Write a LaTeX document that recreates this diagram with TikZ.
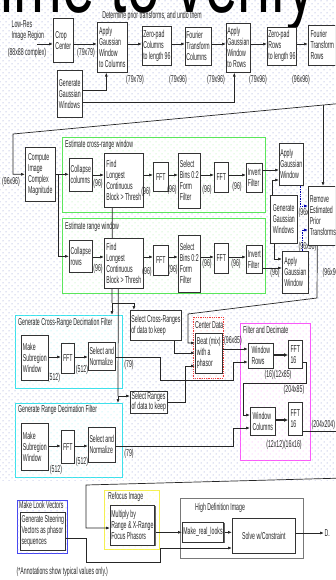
\documentclass[tikz,border=0pt]{standalone}
\usepackage{fontspec}
\setmainfont{Liberation Sans}[FakeStretch=0.52]
\newfontfamily\bigfont{Liberation Sans}[FakeStretch=0.65]
\usepackage{tikz}
\usetikzlibrary{arrows.meta,positioning,calc,shadows,patterns.meta,backgrounds}
\usepackage{xcolor}

\newcommand{\dfont}{\fontsize{10}{11}\selectfont}

\definecolor{dotblue}{RGB}{130,140,205}
\definecolor{grpgreen}{RGB}{90,230,90}
\definecolor{grpcyan}{RGB}{60,225,235}
\definecolor{grpmag}{RGB}{250,90,250}
\definecolor{grpred}{RGB}{240,60,60}
\definecolor{grpblue}{RGB}{70,70,240}
\definecolor{grpyellow}{RGB}{245,240,80}
\definecolor{grpgray}{RGB}{120,120,120}

\tikzdeclarepattern{
  name=bgdots,
  type=uncolored,
  bottom left={(-.5pt,-.5pt)},
  top right={(6.5pt,6.5pt)},
  tile size={(6pt,6pt)},
  code={
    \pgfpathcircle{\pgfpoint{0pt}{0pt}}{.5pt}
    \pgfpathcircle{\pgfpoint{3pt}{3pt}}{.5pt}
    \pgfusepath{fill}
  }
}

\pgfdeclarelayer{regions}
\pgfdeclarelayer{wires}
\pgfsetlayers{regions,wires,main}

\tikzset{
  box/.style={draw=black!80, fill=white, line width=0.6pt, inner sep=1pt, align=left, font=\dfont, anchor=north west,
    drop shadow={shadow xshift=1pt, shadow yshift=-1pt, fill=black!60, opacity=1}},
  note/.style={font=\dfont, inner sep=0.5pt},
  grouplabel/.style={font=\dfont, anchor=west, inner sep=0pt},
  zone/.style={draw=#1, line width=0.8pt, fill=white, postaction={pattern=bgdots, pattern color=#1!55}},
  wire/.style={-{Latex[length=4pt,width=3pt]}, line width=0.7pt, draw=black!85},
  plainwire/.style={line width=0.7pt, draw=black!85},
  fatwire/.style={-{Latex[length=4pt,width=4pt]}, line width=1.6pt, draw=black!85},
  bluewire/.style={-{Latex[length=4pt,width=3pt]}, line width=0.7pt, draw=blue!70!black, densely dotted}
}

\begin{document}
\begin{tikzpicture}[x=1pt, y=-1pt, node distance=9pt, text=black!85]
\useasboundingbox (0,0) rectangle (335,580);
\clip (0,0) rectangle (335,580);

\begin{pgfonlayer}{regions}
\fill[pattern=bgdots, pattern color=dotblue] (0,0) rectangle (335,480);
\draw[zone=grpgreen] (62,137) rectangle (265,212);
\node[grouplabel] (lblX) at (65,145) {Estimate cross-range window};
\draw[zone=grpgreen] (62,218) rectangle (265,293);
\node[grouplabel] (lblR) at (65,227) {Estimate range window};
\draw[zone=grpcyan] (15,315) rectangle (122,388);
\node[grouplabel] (lblDX) at (18,323) {Generate Cross-Range Decimation Filter};
\draw[zone=grpcyan] (15,403) rectangle (122,477);
\node[grouplabel] (lblDR) at (18,410) {Generate Range Decimation Filter};
\draw[zone=grpred, densely dotted] (193,317) rectangle (223,378);
\node[grouplabel] (lblC) at (195,325) {Center Data};
\draw[zone=grpmag] (240,323) rectangle (310,460);
\node[grouplabel] (lblF) at (243,330) {Filter and Decimate};
\draw[zone=grpblue] (17,500) rectangle (67,553);
\node[grouplabel] (lblL) at (19,505) {Make Look Vectors};
\draw[zone=grpyellow] (104,490) rectangle (159,549);
\node[grouplabel] (lblI) at (108,497) {Refocus Image};
\draw[draw=grpgray, line width=0.8pt, fill=white] (180,498) rectangle (303,558);
\node[grouplabel] (lblH) at (195,508) {High Definition Image};
\end{pgfonlayer}

\node[anchor=base west, inner sep=0pt, font=\bigfont\fontsize{90}{90}\selectfont, text=black] (banner) at (-16,13) {time to verify};
\node[note] (lblP) at (152,16) {Determine prior transforms, and undo them};

% prior transforms
\node[note, align=left, anchor=north west] (lowres) at (11,20) {Low-Res\\Image Region};
\node[note] (a1) at (27,53) {(88x88 complex)};
\node[box, minimum width=20, minimum height=44] (crop) at (53,18) {Crop\\Center};
\node[box, minimum width=30, minimum height=50] (applycol) at (97,22) {Apply\\Gaussian\\Window\\to Columns};
\node[box, minimum width=28, minimum height=39] (zpcol) at (142,26) {Zero-pad\\Columns\\to length 96};
\node[box, minimum width=25, minimum height=38] (fftcol) at (185,27) {Fourier\\Transform\\Columns};
\node[box, minimum width=24, minimum height=49] (applyrow) at (226,23) {Apply\\Gaussian\\Window\\to Rows};
\node[box, minimum width=27, minimum height=38] (zprow) at (267,27) {Zero-pad\\Rows\\to length 96};
\node[box, minimum width=28, minimum height=40] (fftrow) at (308,25) {Fourier\\Transform\\Rows};
\node[box, minimum width=25, minimum height=47] (gengaussA) at (57,70) {Generate\\Gaussian\\Windows};
\node[note] (a2) at (86,53) {(79x79)};
\node[note] (a3) at (135,80) {(79x79)};
\node[note] (a4) at (178,80) {(79x96)};
\node[note] (a5) at (216,80) {(79x96)};
\node[note] (a6) at (258,80) {(79x96)};
\node[note] (a7) at (301,80) {(96x96)};

% window estimation
\node[box, minimum width=30, minimum height=54] (magn) at (25,147) {Compute\\Image\\Complex\\Magnitude};
\node[note] (a8) at (11,182) {(96x96)};
\node[box, minimum width=23, minimum height=33] (collapseX) at (69,158) {Collapse\\columns};
\node[box, minimum width=39, minimum height=54] (findX) at (104,153) {Find\\Longest\\Continuous\\Block > Thresh};
\node[box, minimum width=15, minimum height=29] (fftXa) at (153,162) {FFT};
\node[box, minimum width=22, minimum height=55] (selX) at (178,153) {Select\\Bins 0:2\\Form\\Filter};
\node[box, minimum width=14, minimum height=30] (fftXb) at (214,162) {FFT};
\node[box, minimum width=16, minimum height=29] (invX) at (246,163) {Invert\\Filter};
\node[box, minimum width=24, minimum height=42] (winX) at (279,143) {Apply\\Gaussian\\Window};
\node[box, minimum width=27, minimum height=48] (gengaussB) at (270,195) {Generate\\Gaussian\\Windows};
\node[note, anchor=west] (a32) at (298,213) {(96x96)};
\node[note, anchor=west] (a33) at (298,247) {(96x96)};
\node[box, minimum width=29, minimum height=59] (remove) at (308,186) {Remove\\Estimated\\Prior\\Transforms};
\node[note] (a9) at (98,184) {(96)};
\node[note] (a10) at (146,192) {(96)};
\node[note] (a11) at (172,190) {(96)};
\node[note] (a12) at (207,190) {(96)};
\node[note] (a13) at (237,187) {(96)};

\node[box, minimum width=23, minimum height=32] (collapseR) at (69,240) {Collapse\\rows};
\node[box, minimum width=39, minimum height=50] (findR) at (104,238) {Find\\Longest\\Continuous\\Block > Thresh};
\node[box, minimum width=15, minimum height=30] (fftRa) at (153,245) {FFT};
\node[box, minimum width=22, minimum height=57] (selR) at (178,235) {Select\\Bins 0:2\\Form\\Filter};
\node[box, minimum width=14, minimum height=30] (fftRb) at (214,243) {FFT};
\node[box, minimum width=16, minimum height=28] (invR) at (246,245) {Invert\\Filter};
\node[box, minimum width=26, minimum height=42] (winR) at (282,251) {Apply\\Gaussian\\Window};
\node[note] (a14) at (98,269) {(96)};
\node[note] (a15) at (147,272) {(96)};
\node[note] (a16) at (173,270) {(96)};
\node[note] (a17) at (207,264) {(96)};
\node[note] (a18) at (236,264) {(96)};
\node[note] (a19) at (275,273) {(96)};
\node[note, anchor=west] (a20) at (322,273) {(96x96)};

% decimation filters
\node[box, minimum width=27, minimum height=45] (subX) at (21,335) {Make\\Subregion\\Window};
\node[box, minimum width=13, minimum height=30] (fftDX) at (61,343) {FFT};
\node[box, minimum width=27, minimum height=28] (normX) at (88,342) {Select and\\Normalize};
\node[note] (a21) at (54,378) {(512)};
\node[note] (a22) at (82,370) {(512)};
\node[note] (a23) at (129,365) {(79)};
\node[box, minimum width=27, minimum height=47] (subR) at (21,423) {Make\\Subregion\\Window};
\node[box, minimum width=13, minimum height=33] (fftDR) at (61,430) {FFT};
\node[box, minimum width=27, minimum height=35] (normR) at (88,427) {Select and\\Normalize};
\node[note] (a24) at (56,470) {(512)};
\node[note] (a25) at (82,462) {(512)};
\node[note] (a26) at (129,454) {(79)};

\node[box, minimum width=50, minimum height=30] (selCross) at (130,310) {Select Cross-Ranges\\of data to keep};
\node[box, minimum width=37, minimum height=20, font=\fontsize{10}{9}\selectfont] (selRange) at (130,391) {Select Ranges\\of data to keep};

% center, filter and decimate
\node[box, minimum width=27, minimum height=40] (beat) at (195,333) {Beat (mix)\\with a\\phasor};
\node[box, minimum width=25, minimum height=25] (winRows) at (248,343) {Window\\Rows};
\node[box, minimum width=14, minimum height=28] (fft16a) at (288,340) {FFT\\16};
\node[box, minimum width=25, minimum height=28] (winCols) at (250,407) {Window\\Columns};
\node[box, minimum width=14, minimum height=33] (fft16b) at (288,402) {FFT\\16};
\node[note] (a27) at (233,341) {(96x85)};
\node[note] (a28) at (278,375) {(16)(12x85)};
\node[note] (a29) at (294,390) {(204x85)};
\node[note] (a30) at (284,445) {(12x12)(16x16)};
\node[note, anchor=west] (a31) at (311,425) {(204x204)};

% refocus and solve
\node[box, minimum width=45, minimum height=38] (steer) at (20,512) {Generate Steering\\Vectors as phasor\\sequences};
\node[box, minimum width=44, minimum height=40] (multiply) at (110,505) {Multiply by\\Range \& X-Range\\Focus Phasors};
\node[box, minimum width=41, minimum height=20] (mkreal) at (182,522) {Make\_real\_looks};
\node[box, minimum width=63, minimum height=35] (solve) at (232,518) {Solve w/Constraint};
\node[note, anchor=west] (dout) at (324,533) {D.};
\node[note, anchor=west] (footnote) at (16,572) {(*Annotations show typical values only.)};

\begin{pgfonlayer}{wires}
\coordinate (lrin) at (37,44);
\coordinate (rowA) at (0,44);
\draw[wire] (lrin) -- (crop.west |- rowA);
\draw[wire] (crop.east |- rowA) -- (applycol.west |- rowA);
\draw[wire] (applycol.east |- rowA) -- (zpcol.west |- rowA);
\draw[wire] (zpcol.east |- rowA) -- (fftcol.west |- rowA);
\draw[wire] (fftcol.east |- rowA) -- (applyrow.west |- rowA);
\draw[wire] (applyrow.east |- rowA) -- (zprow.west |- rowA);
\draw[wire] (zprow.east |- rowA) -- (fftrow.west |- rowA);
\draw[wire] (gengaussA.east |- 0,90) -| ([xshift=-6]applycol.south);
\draw[wire] (gengaussA.east |- 0,102) -| ([xshift=-4]applyrow.south);

\coordinate (retR) at (345,103);
\coordinate (retL) at (13,134);
\coordinate (brk) at (323,105);
\draw[wire] (retR) -- (retL) |- (magn.west);
\draw[wire] (brk) -- (brk |- remove.north);

\coordinate (split) at (58,174);
\draw[wire] (magn.east) -- (collapseX.west |- magn.east);
\draw[wire] (split) |- (collapseR.west);

\coordinate (rowB) at (0,175);
\draw[wire] (collapseX.east |- rowB) -- (findX.west |- rowB);
\draw[wire] (findX.east |- rowB) -- (fftXa.west |- rowB);
\draw[wire] (fftXa.east |- rowB) -- (selX.west |- rowB);
\draw[wire] (selX.east |- rowB) -- (fftXb.west |- rowB);
\draw[wire] (fftXb.east |- rowB) -- (invX.west |- rowB);
\draw[wire] (invX.east |- 0,170) -- (winX.west |- 0,170);
\draw[wire] ([xshift=-11.5]gengaussB.north) |- (winX.west |- 0,180);
\draw[wire] ([xshift=-9.5]gengaussB.south) |- (winR.west |- 0,259);
\draw[bluewire] ([xshift=9]winX.south) |- (remove.west |- 0,206);
\draw[bluewire] ([xshift=7]winR.north) |- (remove.west |- 0,230);

\coordinate (rowC) at (0,257);
\draw[wire] (collapseR.east |- rowC) -- (findR.west |- rowC);
\draw[wire] (findR.east |- rowC) -- (fftRa.west |- rowC);
\draw[wire] (fftRa.east |- rowC) -- (selR.west |- rowC);
\draw[wire] (selR.east |- rowC) -- (fftRb.west |- rowC);
\draw[wire] (fftRb.east |- rowC) -- (invR.west |- rowC);
\draw[wire] (invR.east |- 0,268) -- (winR.west |- 0,268);

\coordinate (dropA) at (317,298);
\coordinate (dropB) at (188,314);
\draw[wire] ([xshift=-5.5]remove.south) -- (dropA) -- (dropB) |- (beat.west |- 0,343);

\coordinate (fx) at (112,303);
\coordinate (fxd) at (112,315);
\draw[plainwire] ([xshift=-11.5]findX.south) -- (fx);
\draw[wire] (fx) -| ([xshift=-22]selCross.north);
\draw[wire] (fx) -- (fxd);
\coordinate (fr) at (118,396);
\coordinate (frd) at (118,403);
\draw[plainwire] ([xshift=-5.5]findR.south) -- (fr);
\draw[wire] (fr) -- (selRange.west |- fr);
\draw[wire] (fr) -- (frd);

\coordinate (rowD) at (0,357);
\draw[wire] (subX.east |- rowD) -- (fftDX.west |- rowD);
\draw[wire] (fftDX.east |- rowD) -- (normX.west |- rowD);
\draw[wire] (normX.east |- rowD) -- (160,357) -- (160,380) -- (233,380) -- (233,362) -- (winRows.west |- 0,362);
\coordinate (rowE) at (0,446);
\draw[wire] (subR.east |- rowE) -- (fftDR.west |- rowE);
\draw[wire] (fftDR.east |- rowE) -- (normR.west |- rowE);
\draw[wire] (normR.east |- rowE) -- (233,446) -- (233,428) -- (winCols.west |- 0,428);

\draw[wire] ([xshift=18]selCross.south) |- (beat.west |- 0,353);
\draw[wire] (selRange.east) -| (185,366) -- (beat.west |- 0,366);
\draw[wire] (beat.east |- 0,349) -- (winRows.west |- 0,349);
\draw[fatwire] (winRows.east |- 0,355) -- (fft16a.west |- 0,355);
\draw[wire] (fft16a.east |- 0,362) -- (306,362) -- (306,383) -- (243,383) |- (winCols.west |- 0,415);
\draw[fatwire] (winCols.east |- 0,420) -- (fft16b.west |- 0,420);
\draw[plainwire] (fft16b.east |- 0,431) -- (345,431);

\coordinate (backR) at (345,478);
\coordinate (backL) at (86,485);
\draw[wire] (backR) -- (backL) |- (multiply.west |- 0,528);
\draw[wire] (multiply.east |- mkreal.west) -- (mkreal.west);
\draw[wire] (mkreal.east) -- (solve.west |- mkreal.east);
\draw[wire] (steer.east |- 0,538) -- (86,538) -- (86,562) -- (160,562) -- (160,548) -- (solve.west |- 0,548);
\draw[wire] (solve.east |- dout) -- (dout.west);
\end{pgfonlayer}
\end{tikzpicture}
\end{document}
